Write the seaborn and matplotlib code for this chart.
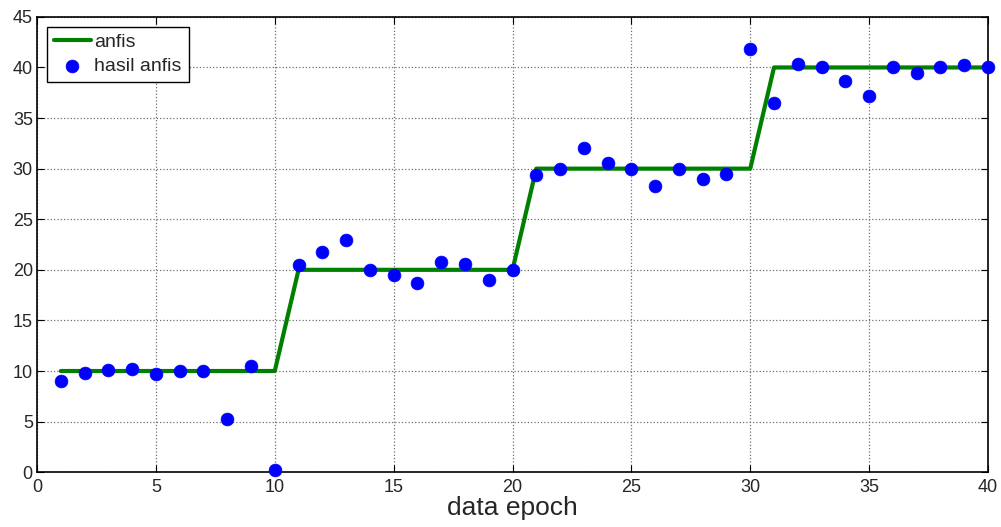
import numpy as np
import pandas as pd
import matplotlib
matplotlib.use("Agg")
import matplotlib.pyplot as plt
import seaborn as sns

# data
epoch = list(range(1, 41))
target = [10] * 10 + [20] * 10 + [30] * 10 + [40] * 10
hasil = [9.0, 9.8, 10.1, 10.2, 9.7, 10.0, 10.0, 5.3, 10.5, 0.2,
         20.5, 21.8, 22.9, 20.0, 19.5, 18.7, 20.8, 20.6, 19.0, 20.0,
         29.4, 30.0, 32.0, 30.6, 30.0, 28.3, 30.0, 29.0, 29.5, 41.8,
         36.5, 40.3, 40.0, 38.7, 37.2, 40.0, 39.5, 40.0, 40.2, 40.0]
xticks = list(range(0, 41, 5))
yticks = list(range(0, 46, 5))

df = pd.DataFrame({"epoch": epoch, "anfis": target, "hasil": hasil})

sns.set_style("white")
plt.rcParams["font.family"] = ["Liberation Sans", "DejaVu Sans"]

fig = plt.figure(figsize=(10.01, 5.27), dpi=100)
ax = fig.add_axes([0.037, 0.104, 0.950, 0.864])

sns.lineplot(data=df, x="epoch", y="anfis", ax=ax, color="#008000", lw=3,
             label="anfis", zorder=3)
sns.scatterplot(data=df, x="epoch", y="hasil", ax=ax, color="#0000ff", s=85,
                edgecolor="#0000ff", linewidth=0.5, label="hasil anfis", zorder=4,
                clip_on=False)

ax.set_xlim(0, 40)
ax.set_ylim(0, 45)
ax.set_xticks(xticks)
ax.set_yticks(yticks)
ax.tick_params(direction="in", length=5, labelsize=13, color="black",
               top=True, right=True, bottom=True, left=True)
ax.tick_params(axis="x", pad=5)
ax.tick_params(axis="y", pad=3)
ax.grid(True, color="#707070", linestyle=":", linewidth=0.9)
for s in ax.spines.values():
    s.set_color("black")
    s.set_linewidth(1.2)
ax.set_xlabel("data epoch", fontsize=19, labelpad=0)
ax.set_ylabel("")

leg = ax.legend(loc="upper left", fontsize=14, frameon=True, fancybox=False,
                edgecolor="black", framealpha=1, borderaxespad=0.5,
                handlelength=1.9, handletextpad=0.2, borderpad=0.35,
                labelspacing=0.35)
leg.get_frame().set_linewidth(1.0)

fig.savefig("out.png", dpi=100)
